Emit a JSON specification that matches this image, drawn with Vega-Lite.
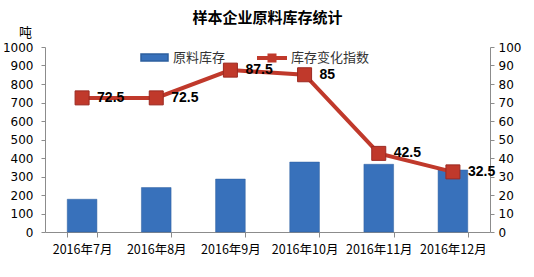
{
  "$schema": "https://vega.github.io/schema/vega-lite/v6.json",
  "width": 445,
  "height": 185,
  "autosize": {"type": "none"},
  "padding": {"left": 45, "top": 47, "right": 44, "bottom": 45},
  "background": "white",
  "title": {
    "text": "样本企业原料库存统计",
    "font": "Noto Sans CJK SC",
    "fontSize": 15,
    "fontWeight": "bold",
    "color": "#000000",
    "anchor": "middle",
    "frame": "group",
    "offset": 0
  },
  "config": {
    "view": {"stroke": null},
    "axis": {
      "labelFont": "DejaVu Sans",
      "labelFontSize": 12,
      "labelColor": "#000000",
      "domainColor": "#8c8c8c",
      "tickColor": "#8c8c8c",
      "grid": false
    }
  },
  "data": {
    "values": [
      {"month": "2016年7月", "stock": 177, "index": 72.5, "s1": "原料库存", "s2": "库存变化指数"},
      {"month": "2016年8月", "stock": 240, "index": 72.5, "s1": "原料库存", "s2": "库存变化指数"},
      {"month": "2016年9月", "stock": 286, "index": 87.5, "s1": "原料库存", "s2": "库存变化指数"},
      {"month": "2016年10月", "stock": 378, "index": 85, "s1": "原料库存", "s2": "库存变化指数"},
      {"month": "2016年11月", "stock": 366, "index": 42.5, "s1": "原料库存", "s2": "库存变化指数"},
      {"month": "2016年12月", "stock": 335, "index": 32.5, "s1": "原料库存", "s2": "库存变化指数"}
    ]
  },
  "encoding": {
    "x": {
      "field": "month",
      "type": "nominal",
      "sort": null,
      "scale": {"paddingInner": 0.6, "paddingOuter": 0.3},
      "axis": {
        "title": null,
        "labelAngle": 0,
        "tickBand": "extent",
        "tickSize": 5,
        "labelPadding": 6,
        "labelFont": "Noto Sans CJK SC",
        "labelFontSize": 12.5
      }
    }
  },
  "layer": [
    {
      "mark": {"type": "bar", "stroke": "#2c5f9e", "strokeWidth": 0.5},
      "encoding": {
        "y": {
          "field": "stock",
          "type": "quantitative",
          "scale": {"domain": [0, 1000], "nice": false},
          "axis": {
            "title": "吨",
            "titleAngle": 0,
            "titleAlign": "center",
            "titleBaseline": "middle",
            "titleX": -20,
            "titleY": -15,
            "titleFont": "Noto Sans CJK SC",
            "titleFontSize": 13,
            "titleFontWeight": "normal",
            "titleColor": "#000000",
            "values": [0, 100, 200, 300, 400, 500, 600, 700, 800, 900, 1000],
            "format": "d",
            "tickSize": 4,
            "labelPadding": 8
          }
        },
        "fill": {
          "field": "s1",
          "type": "nominal",
          "scale": {"range": ["#3871bb"]},
          "legend": {
            "title": null,
            "orient": "none",
            "legendX": 95,
            "legendY": -4,
            "symbolType": "M-1,-0.26H1V0.26H-1Z",
            "symbolSize": 729,
            "labelFont": "Noto Sans CJK SC",
            "labelFontSize": 13,
            "labelColor": "#333333",
            "labelOffset": 4
          }
        }
      }
    },
    {
      "mark": {"type": "line", "strokeWidth": 4},
      "encoding": {
        "y": {
          "field": "index",
          "type": "quantitative",
          "scale": {"domain": [0, 100], "nice": false},
          "axis": {
            "orient": "right",
            "title": null,
            "values": [0, 10, 20, 30, 40, 50, 60, 70, 80, 90, 100],
            "tickSize": 4,
            "labelPadding": 4
          }
        },
        "stroke": {
          "field": "s2",
          "type": "nominal",
          "scale": {"range": ["#c0392b"]},
          "legend": {
            "title": null,
            "orient": "none",
            "legendX": 212,
            "legendY": -4,
            "symbolType": "M-1,-0.13H1V0.13H-1Z M-0.3,-0.3H0.3V0.3H-0.3Z",
            "symbolSize": 900,
            "symbolFillColor": "#c0392b",
            "symbolStrokeWidth": 0,
            "labelFont": "Noto Sans CJK SC",
            "labelFontSize": 13,
            "labelColor": "#333333",
            "labelOffset": 4,
            "encode": {"symbols": {"update": {"fill": {"value": "#c0392b"}, "strokeWidth": {"value": 0}}}}
          }
        }
      }
    },
    {
      "mark": {"type": "point", "shape": "square", "filled": true, "size": 196, "color": "#c0392b", "stroke": "#9b2a22", "strokeWidth": 1, "opacity": 1},
      "encoding": {
        "y": {"field": "index", "type": "quantitative", "scale": {"domain": [0, 100], "nice": false}, "axis": null}
      }
    },
    {
      "mark": {"type": "text", "align": "left", "baseline": "middle", "dx": 15, "font": "Liberation Sans", "fontSize": 14, "fontWeight": "bold", "color": "#000000"},
      "encoding": {
        "y": {"field": "index", "type": "quantitative", "scale": {"domain": [0, 100], "nice": false}, "axis": null},
        "text": {"field": "index", "type": "quantitative"}
      }
    }
  ],
  "resolve": {"scale": {"y": "independent"}}
}
